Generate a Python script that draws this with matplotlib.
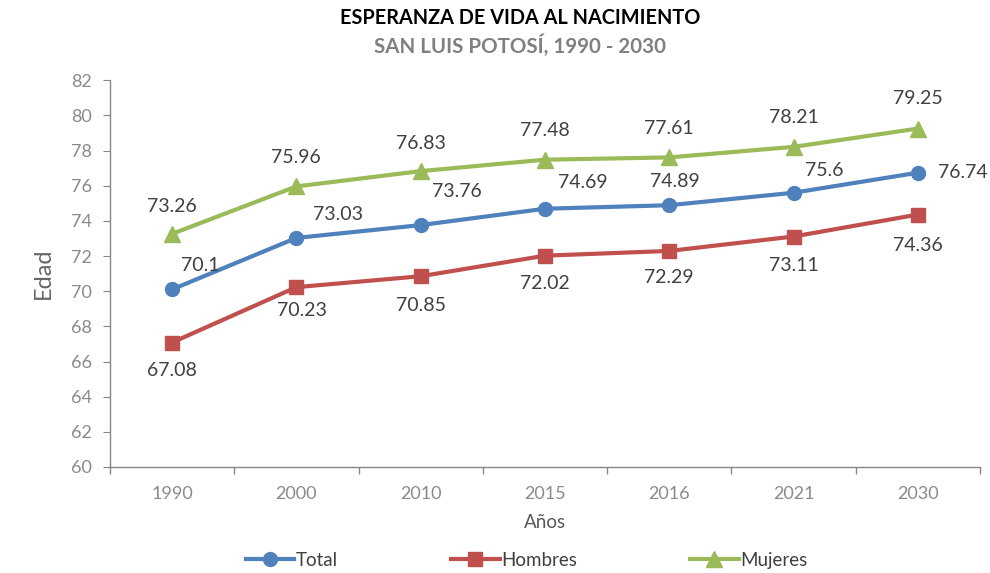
import numpy as np
import matplotlib
matplotlib.use("Agg")
import matplotlib.pyplot as plt

# Datos
anios = ["1990", "2000", "2010", "2015", "2016", "2021", "2030"]
total = [70.1, 73.03, 73.76, 74.69, 74.89, 75.6, 76.74]
hombres = [67.08, 70.23, 70.85, 72.02, 72.29, 73.11, 74.36]
mujeres = [73.26, 75.96, 76.83, 77.48, 77.61, 78.21, 79.25]

# Desplazamientos de etiquetas (puntos)
off_total = [(20, 17), (30, 17), (26, 24), (27, 19), (4, 17), (22, 16), (32, 0)]
off_hombres = [(0, -20), (4, -17), (0, -21), (0, -20), (0, -19), (0, -21), (0, -22)]
off_mujeres = [(0, 20), (0, 21), (0, 20), (0, 21), (0, 21), (0, 21), (0, 22)]

C_TOTAL = "#4F81BD"
C_HOMBRES = "#C0504D"
C_MUJERES = "#9BBB59"
C_LABEL = "#404040"
C_AXIS = "#868686"

plt.rcParams["font.family"] = ["Lato", "DejaVu Sans"]

fig = plt.figure(figsize=(9.9, 5.73), dpi=100)
ax = fig.add_axes([0.111, 0.185, 0.879, 0.675])

x = np.arange(len(anios))
series = [
    ("Total", total, C_TOTAL, "o", 10, off_total),
    ("Hombres", hombres, C_HOMBRES, "s", 10, off_hombres),
    ("Mujeres", mujeres, C_MUJERES, "^", 11, off_mujeres),
]
for name, vals, col, mk, ms, offs in series:
    ax.plot(x, vals, color=col, lw=3, marker=mk, markersize=ms, label=name)
    for xi, v, (dx, dy) in zip(x, vals, offs):
        ax.annotate(f"{v:g}", (xi, v), xytext=(dx, dy), textcoords="offset points",
                    ha="center", va="center", fontsize=14, color=C_LABEL)

ax.set_xlim(-0.5, len(anios) - 0.5)
ax.set_ylim(60, 82)
ax.set_yticks(np.arange(60, 83, 2))
ax.set_xticks(x)
ax.set_xticklabels(anios)
ax.set_xticks(np.arange(-0.5, len(anios), 1), minor=True)
ax.tick_params(axis="x", which="major", length=0, pad=14, labelsize=13, labelcolor="#8a8a8a")
ax.tick_params(axis="x", which="minor", length=5, color=C_AXIS, width=1)
ax.tick_params(axis="y", length=5, color=C_AXIS, labelsize=13, labelcolor="#8a8a8a", pad=8)

for s in ["top", "right"]:
    ax.spines[s].set_visible(False)
for s in ["left", "bottom"]:
    ax.spines[s].set_color(C_AXIS)
    ax.spines[s].set_linewidth(1)

ax.set_ylabel("Edad", fontsize=17, color="#666666", labelpad=12)
ax.set_xlabel("Años", fontsize=13.5, color="#595959", labelpad=8)

fig.text(0.525, 0.968, "ESPERANZA DE VIDA AL NACIMIENTO", ha="center", va="center",
         fontsize=14.3, fontweight="bold", color="black")
fig.text(0.525, 0.920, "SAN LUIS POTOSÍ, 1990 - 2030", ha="center", va="center",
         fontsize=14.8, fontweight="bold", color="#808080")

leg = fig.legend(loc="center", bbox_to_anchor=(0.532, 0.022), ncol=3, frameon=False,
                 fontsize=13.5, handlelength=2.6, handletextpad=0.1, columnspacing=6.0)
for t in leg.get_texts():
    t.set_color(C_LABEL)

fig.savefig("out.png", dpi=100)
